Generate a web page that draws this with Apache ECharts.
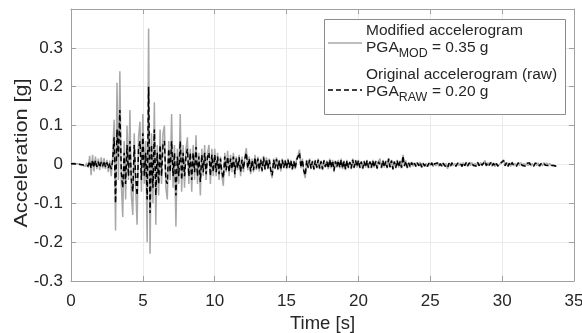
<!DOCTYPE html>
<html><head><meta charset="utf-8">
<script src="https://cdn.jsdelivr.net/npm/echarts@6/dist/echarts.min.js"></script>
<style>html,body{margin:0;padding:0;background:#fff}#c{width:582px;height:333px}</style>
</head><body><div id="c"></div>
<script>
// sampling step of the records [s]
const dt = 0.1;

// Modified accelerogram [g], one row per second
const modified = [
 0.003,0.002,0.003,0.001,0.002,-0.002,0.001,-0.003,-0.002,0.002,
 -0.005,0.004,-0.008,0.022,-0.028,0.025,-0.018,0.020,-0.012,0.015,
 -0.015,0.018,-0.010,0.016,-0.012,0.012,-0.020,0.010,-0.030,0.020,
 0.115,-0.170,0.210,-0.040,0.240,-0.050,-0.135,0.060,-0.090,0.100,
 -0.040,0.140,-0.080,-0.130,0.080,-0.060,-0.155,0.070,0.110,-0.070,
 0.130,-0.050,0.060,-0.200,0.350,-0.230,0.080,-0.100,0.160,-0.155,
 0.050,-0.080,0.090,-0.050,0.080,0.100,-0.060,-0.090,0.060,-0.040,
 0.130,-0.060,0.050,-0.160,0.040,-0.050,0.130,-0.070,0.050,-0.060,
 0.040,0.070,-0.050,0.040,-0.070,0.050,-0.040,0.075,-0.050,0.030,
 -0.080,0.040,-0.030,0.050,-0.040,0.030,0.050,-0.050,0.040,-0.030,
 0.040,-0.030,0.030,-0.040,0.020,-0.030,-0.055,0.030,-0.020,0.035,
 -0.030,0.025,-0.020,0.030,-0.035,0.020,-0.015,0.025,-0.030,0.020,
 -0.020,0.020,0.042,-0.015,0.020,-0.025,0.015,-0.020,0.025,-0.015,
 0.020,-0.018,0.015,-0.020,0.022,-0.015,0.018,-0.012,0.015,-0.020,
 -0.035,0.015,-0.012,0.018,-0.015,0.012,-0.018,0.015,-0.010,0.012,
 -0.012,0.015,-0.010,0.012,-0.015,0.010,-0.012,0.015,0.025,0.038,
 -0.010,0.015,-0.020,-0.035,0.012,-0.010,0.015,-0.012,0.010,-0.015,
 0.012,-0.010,0.015,-0.012,0.010,-0.015,0.012,-0.008,0.010,-0.012,
 0.015,-0.010,0.012,-0.020,0.010,-0.008,0.012,-0.010,0.015,-0.012,
 0.010,-0.015,0.012,-0.010,0.008,-0.012,0.015,-0.010,0.012,-0.008,
 0.012,-0.010,0.008,-0.012,0.010,-0.008,0.012,-0.010,0.008,-0.010,
 0.012,-0.008,0.010,-0.012,0.008,0.015,-0.010,0.012,-0.008,0.010,
 -0.010,0.016,-0.008,0.012,-0.014,0.008,-0.010,0.012,-0.008,0.010,
 -0.010,0.025,-0.005,0.010,-0.010,0.005,-0.008,0.006,-0.005,0.004,
 -0.006,0.005,-0.004,0.006,-0.008,0.004,-0.005,0.003,-0.006,0.004,
 -0.003,0.005,-0.006,0.003,-0.004,0.005,-0.005,0.003,-0.006,0.004,
 -0.004,0.003,-0.011,0.004,-0.006,0.005,-0.004,0.003,-0.005,0.004,
 -0.003,0.004,-0.006,0.005,-0.004,0.006,-0.005,0.004,-0.003,0.005,
 -0.004,0.003,-0.005,0.006,-0.004,0.005,-0.003,0.004,0.010,-0.004,
 0.005,-0.003,0.006,-0.005,0.004,-0.006,0.003,-0.005,-0.010,0.004,
 0.006,0.012,-0.004,0.005,-0.006,0.004,-0.005,0.006,-0.004,0.003,
 -0.005,0.004,-0.003,0.005,-0.004,0.003,-0.005,0.004,-0.003,0.005,
 -0.004,0.003,-0.005,0.004,-0.003,0.004,-0.005,0.003,-0.004,0.005,
 -0.003,0.004,-0.004,0.003,-0.003,0.002,-0.004,0.001,-0.005
];

// Original accelerogram (raw) [g], one row per second
const original = [
 0.002,0.001,0.002,0.000,0.001,-0.001,0.000,-0.002,-0.001,0.001,
 -0.003,0.002,-0.004,0.008,-0.010,0.012,-0.008,0.010,-0.006,0.007,
 -0.008,0.006,-0.005,0.009,-0.007,0.005,-0.010,0.004,-0.012,0.010,
 0.070,-0.100,0.090,0.020,0.140,-0.020,-0.060,0.030,-0.050,0.050,
 -0.030,0.060,-0.040,-0.070,0.050,-0.030,-0.080,0.040,0.060,-0.040,
 0.080,-0.030,0.030,-0.090,0.200,-0.125,0.050,-0.060,0.090,-0.080,
 0.030,-0.050,0.050,-0.030,0.050,0.060,-0.040,-0.050,0.040,-0.020,
 0.060,-0.030,0.030,-0.080,0.020,-0.030,0.060,-0.040,0.030,-0.030,
 0.020,0.040,-0.030,0.030,-0.040,0.030,-0.020,0.045,-0.030,0.020,
 -0.045,0.025,-0.020,0.030,-0.025,0.020,0.030,-0.030,0.025,-0.020,
 0.025,-0.020,0.020,-0.025,0.015,-0.020,-0.035,0.020,-0.015,0.020,
 -0.020,0.015,-0.012,0.020,-0.025,0.015,-0.010,0.018,-0.020,0.012,
 -0.012,0.015,0.030,-0.010,0.015,-0.018,0.010,-0.015,0.018,-0.010,
 0.015,-0.014,0.012,-0.016,0.018,-0.012,0.014,-0.010,0.012,-0.015,
 -0.028,0.012,-0.010,0.014,-0.012,0.010,-0.014,0.012,-0.008,0.010,
 -0.010,0.012,-0.008,0.010,-0.012,0.008,-0.010,0.012,0.020,0.030,
 -0.008,0.012,-0.016,-0.028,0.010,-0.008,0.012,-0.010,0.008,-0.012,
 0.010,-0.008,0.012,-0.010,0.008,-0.012,0.010,-0.006,0.008,-0.010,
 0.012,-0.008,0.010,-0.016,0.008,-0.006,0.010,-0.008,0.012,-0.010,
 0.008,-0.012,0.010,-0.008,0.006,-0.010,0.012,-0.008,0.010,-0.006,
 0.010,-0.008,0.007,-0.010,0.008,-0.007,0.010,-0.008,0.007,-0.008,
 0.010,-0.007,0.008,-0.010,0.007,0.012,-0.008,0.010,-0.007,0.008,
 -0.008,0.014,-0.007,0.010,-0.012,0.007,-0.008,0.010,-0.007,0.008,
 -0.008,0.022,-0.004,0.008,-0.008,0.004,-0.007,0.005,-0.004,0.003,
 -0.005,0.004,-0.003,0.005,-0.007,0.003,-0.004,0.002,-0.005,0.003,
 -0.003,0.004,-0.005,0.002,-0.003,0.004,-0.004,0.002,-0.005,0.003,
 -0.003,0.002,-0.009,0.003,-0.005,0.004,-0.003,0.002,-0.004,0.003,
 -0.002,0.003,-0.005,0.004,-0.003,0.005,-0.004,0.003,-0.002,0.004,
 -0.003,0.002,-0.004,0.005,-0.003,0.004,-0.002,0.003,0.008,-0.003,
 0.004,-0.002,0.005,-0.004,0.003,-0.005,0.002,-0.004,-0.008,0.003,
 0.005,0.010,-0.003,0.004,-0.005,0.003,-0.004,0.005,-0.003,0.002,
 -0.004,0.003,-0.002,0.004,-0.003,0.002,-0.004,0.003,-0.002,0.004,
 -0.003,0.002,-0.004,0.003,-0.002,0.003,-0.004,0.002,-0.003,0.004,
 -0.002,0.003,-0.003,0.002,-0.002,0.001,-0.003,0.000,-0.005
];

const xRange = [0, 35], xStep = 5;
const yRange = [-0.3, 0.4], yStep = 0.1;
const xName = 'Time [s]';
const yName = 'Acceleration [g]';
const legendLines = [
  ['Modified accelerogram', 'PGA', 'MOD', ' = 0.35 g'],
  ['Original accelerogram (raw)', 'PGA', 'RAW', ' = 0.20 g']
];

const FONT = '"Liberation Sans", Arial, sans-serif';
const toPairs = arr => arr.map((v, i) => [+(i * dt).toFixed(2), v]);

const axisCol = '#a0a0a0', gridCol = '#ebebeb', txtCol = '#262626';
const fmtY = v => v > 0.35 ? '' : (Math.abs(v) < 1e-9 ? '0' : String(+v.toFixed(1)));

const chart = echarts.init(document.getElementById('c'), null, {renderer: 'canvas'});
const baseX = {
  type: 'value', min: xRange[0], max: xRange[1], interval: xStep,
  axisLine: {show: true, onZero: false, lineStyle: {color: axisCol, width: 1}},
  axisTick: {show: true, inside: true, length: 5, lineStyle: {color: axisCol}},
  splitLine: {show: false}
};
const baseY = {
  type: 'value', min: yRange[0], max: yRange[1], interval: yStep,
  axisLine: {show: true, onZero: false, lineStyle: {color: axisCol, width: 1}},
  axisTick: {show: true, inside: true, length: 5, lineStyle: {color: axisCol}},
  splitLine: {show: false}
};

const lx = 324, ly = 19, lw = 241, lh = 95;
const tx = 366;
const fs = 15.5, sfs = 12.4;
function legendText(lines, y1, y2) {
  const [l1, a, sub, b] = lines;
  return [
    {type: 'text', x: tx, y: y1, style: {text: l1, font: fs + 'px ' + FONT, fill: txtCol, verticalAlign: 'middle'}},
    {type: 'text', x: tx, y: y2, style: {text: a, font: fs + 'px ' + FONT, fill: txtCol, verticalAlign: 'middle'}},
    {type: 'text', x: tx + 32.7, y: y2 + 6, style: {text: sub, font: sfs + 'px ' + FONT, fill: txtCol, verticalAlign: 'middle'}},
    {type: 'text', x: tx + 32.7 + 29, y: y2, style: {text: b, font: fs + 'px ' + FONT, fill: txtCol, verticalAlign: 'middle'}}
  ];
}

chart.setOption({
  animation: false,
  backgroundColor: '#fff',
  textStyle: {fontFamily: FONT},
  grid: {left: 71, right: 8, top: 9, bottom: 52, containLabel: false, outerBoundsMode: 'none'},
  xAxis: [
    Object.assign({}, baseX, {
      position: 'bottom',
      splitLine: {show: true, lineStyle: {color: gridCol, width: 1}},
      axisLabel: {show: true, fontSize: 17, color: txtCol, margin: 12, fontFamily: FONT},
      name: xName, nameLocation: 'middle', nameGap: 31,
      nameTextStyle: {fontSize: 18.5, color: txtCol, fontFamily: FONT}
    }),
    Object.assign({}, baseX, {position: 'top', axisLabel: {show: false}})
  ],
  yAxis: [
    Object.assign({}, baseY, {
      position: 'left',
      splitLine: {show: true, lineStyle: {color: gridCol, width: 1}},
      axisLabel: {show: true, fontSize: 17, color: txtCol, margin: 8, fontFamily: FONT, formatter: fmtY}
    }),
    Object.assign({}, baseY, {position: 'right', axisLabel: {show: false}})
  ],
  series: [
    {
      name: 'Modified accelerogram', type: 'line', data: toPairs(modified),
      showSymbol: false, symbol: 'none', z: 2,
      lineStyle: {color: '#a8a8a8', width: 1.5}
    },
    {
      name: 'Original accelerogram (raw)', type: 'line', data: toPairs(original),
      showSymbol: false, symbol: 'none', z: 3,
      lineStyle: {color: '#000000', width: 1.5, type: [5, 3]}
    }
  ],
  graphic: [
    {type: 'text', x: 22, y: 153, rotation: Math.PI / 2, scaleX: 1.17, z: 50,
     style: {text: yName, font: '18.5px ' + FONT, fill: txtCol, align: 'center', verticalAlign: 'middle'}},
    {type: 'rect', shape: {x: lx + 0.5, y: ly + 0.5, width: lw, height: lh}, z: 100,
     style: {fill: '#ffffff', stroke: '#8c8c8c', lineWidth: 1}},
    {type: 'line', shape: {x1: 328, y1: 43, x2: 362, y2: 43}, z: 101,
     style: {stroke: '#a8a8a8', lineWidth: 1.5}},
    {type: 'line', shape: {x1: 328, y1: 90, x2: 362, y2: 90}, z: 101,
     style: {stroke: '#000', lineWidth: 1.5, lineDash: [5, 3]}},
    ...legendText(legendLines[0], 31, 48).map(o => Object.assign(o, {z: 101})),
    ...legendText(legendLines[1], 75, 92).map(o => Object.assign(o, {z: 101}))
  ]
});
</script>
</body></html>
